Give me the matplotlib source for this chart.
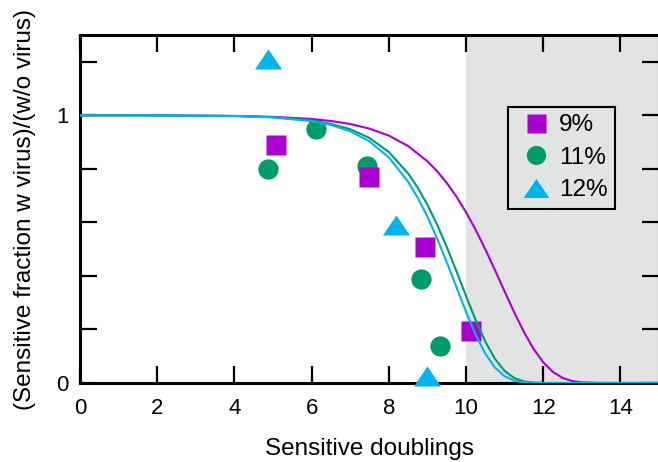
import matplotlib
matplotlib.use("Agg")
import matplotlib.pyplot as plt
from matplotlib.path import Path

plt.rcParams['font.family'] = ['Liberation Sans', 'DejaVu Sans']

# ---- data ----
labels = ["9%", "11%", "12%"]
colors = ["#a900cf", "#009b6b", "#00b4eb"]

# measured points
x_9 = [5.08, 7.48, 8.95, 10.12]
y_9 = [0.889, 0.769, 0.508, 0.196]
x_11 = [4.86, 6.12, 7.44, 8.83, 9.33]
y_11 = [0.799, 0.950, 0.810, 0.388, 0.139]
x_12 = [4.88, 8.19, 9.00]
y_12 = [1.212, 0.589, 0.027]

# fitted curves
cx_9 = [0, 2, 4, 5, 6, 6.5, 7, 7.5, 8, 8.5, 9, 9.25, 9.5, 9.75, 10, 10.25,
        10.5, 10.75, 11, 11.25, 11.5, 11.75, 12, 12.25, 12.5, 12.75, 13, 13.5, 15]
cy_9 = [0.9999, 0.9996, 0.9976, 0.9942, 0.9863, 0.9788, 0.9675, 0.9502, 0.9242,
        0.8853, 0.8284, 0.7914, 0.7477, 0.6968, 0.6381, 0.5722, 0.4995, 0.4220,
        0.3423, 0.2638, 0.1909, 0.1276, 0.0774, 0.0415, 0.0192, 0.0073, 0.0022,
        0.0001, 0.0]
cx_11 = [0, 2, 4, 5, 6, 6.5, 7, 7.5, 8, 8.5, 8.75, 9, 9.25, 9.5, 9.75, 10,
         10.25, 10.5, 10.75, 11, 11.25, 11.5, 11.75, 12, 12.5, 15]
cy_11 = [1.0, 0.9997, 0.9975, 0.9930, 0.9809, 0.9684, 0.9481, 0.9152, 0.8631,
         0.7830, 0.7296, 0.6659, 0.5921, 0.5088, 0.4185, 0.3254, 0.2352, 0.1547,
         0.0902, 0.0450, 0.0184, 0.0058, 0.0013, 0.0002, 0.0, 0.0]
cx_12 = [0, 2, 4, 5, 6, 6.5, 7, 7.5, 8, 8.5, 8.75, 9, 9.25, 9.5, 9.75, 10,
         10.25, 10.5, 10.75, 11, 11.25, 11.5, 12, 15]
cy_12 = [1.0, 0.9996, 0.9972, 0.9921, 0.9782, 0.9639, 0.9404, 0.9027, 0.8430,
         0.7520, 0.6920, 0.6215, 0.5410, 0.4522, 0.3588, 0.2661, 0.1808, 0.1098,
         0.0576, 0.0251, 0.0086, 0.0021, 0.0, 0.0]

xticks = [0, 2, 4, 6, 8, 10, 12, 14]
yticks = [0, 0.2, 0.4, 0.6, 0.8, 1.0, 1.2]
ytick_labels = ["0", "", "", "", "", "1", ""]

# ---- figure ----
fig = plt.figure(figsize=(6.58, 4.62), dpi=100)
ax = fig.add_axes([80/658, (462-383)/462, (659-80)/658, (383-35)/462])

ax.axvspan(10, 15, color="#e2e3e3", zorder=0, lw=0)

tri = Path([(-1, -0.74), (1, -0.74), (0, 0.74), (-1, -0.74)],
           [Path.MOVETO, Path.LINETO, Path.LINETO, Path.CLOSEPOLY])

h1, = ax.plot(x_9, y_9, ls="none", marker="s", ms=14.4, mec="none",
              color=colors[0], zorder=3, clip_on=False, label=labels[0])
h2, = ax.plot(x_11, y_11, ls="none", marker="o", ms=14.6, mec="none",
              color=colors[1], zorder=2, clip_on=False, label=labels[1])
h3, = ax.plot(x_12, y_12, ls="none", marker=tri, ms=19.5, mec="none",
              color=colors[2], zorder=3, clip_on=False, label=labels[2])

ax.plot(cx_9, cy_9, color=colors[0], lw=1.5, zorder=4)
ax.plot(cx_11, cy_11, color=colors[1], lw=1.5, zorder=4)
ax.plot(cx_12, cy_12, color=colors[2], lw=1.5, zorder=4)

ax.set_xlim(0, 15)
ax.set_ylim(0, 1.3)
ax.set_xticks(xticks)
ax.set_yticks(yticks)
ax.set_yticklabels(ytick_labels)

for s in ax.spines.values():
    s.set_linewidth(2.2)
ax.tick_params(direction="in", length=12.5, width=1.6, top=True, right=True,
               labelsize=16)
ax.tick_params(axis="x", pad=10.5)
ax.tick_params(axis="y", pad=8)

ax.set_xlabel("Sensitive doublings", fontsize=17.5, labelpad=14)
ax.set_ylabel("(Sensitive fraction w virus)/(w/o virus)", fontsize=17.5,
              labelpad=15)

leg = ax.legend(handles=[h1, h2, h3], loc="upper left",
                bbox_to_anchor=(508/658, (462-107)/462),
                bbox_transform=fig.transFigure, fontsize=17.5,
                frameon=True, fancybox=False, framealpha=1,
                facecolor="#e2e3e3", edgecolor="black",
                handlelength=1.7, handletextpad=0.1, labelspacing=0.43,
                borderpad=0.3, borderaxespad=0, markerscale=0.95)
leg.get_frame().set_linewidth(1.5)

fig.savefig("out.png", dpi=100)
